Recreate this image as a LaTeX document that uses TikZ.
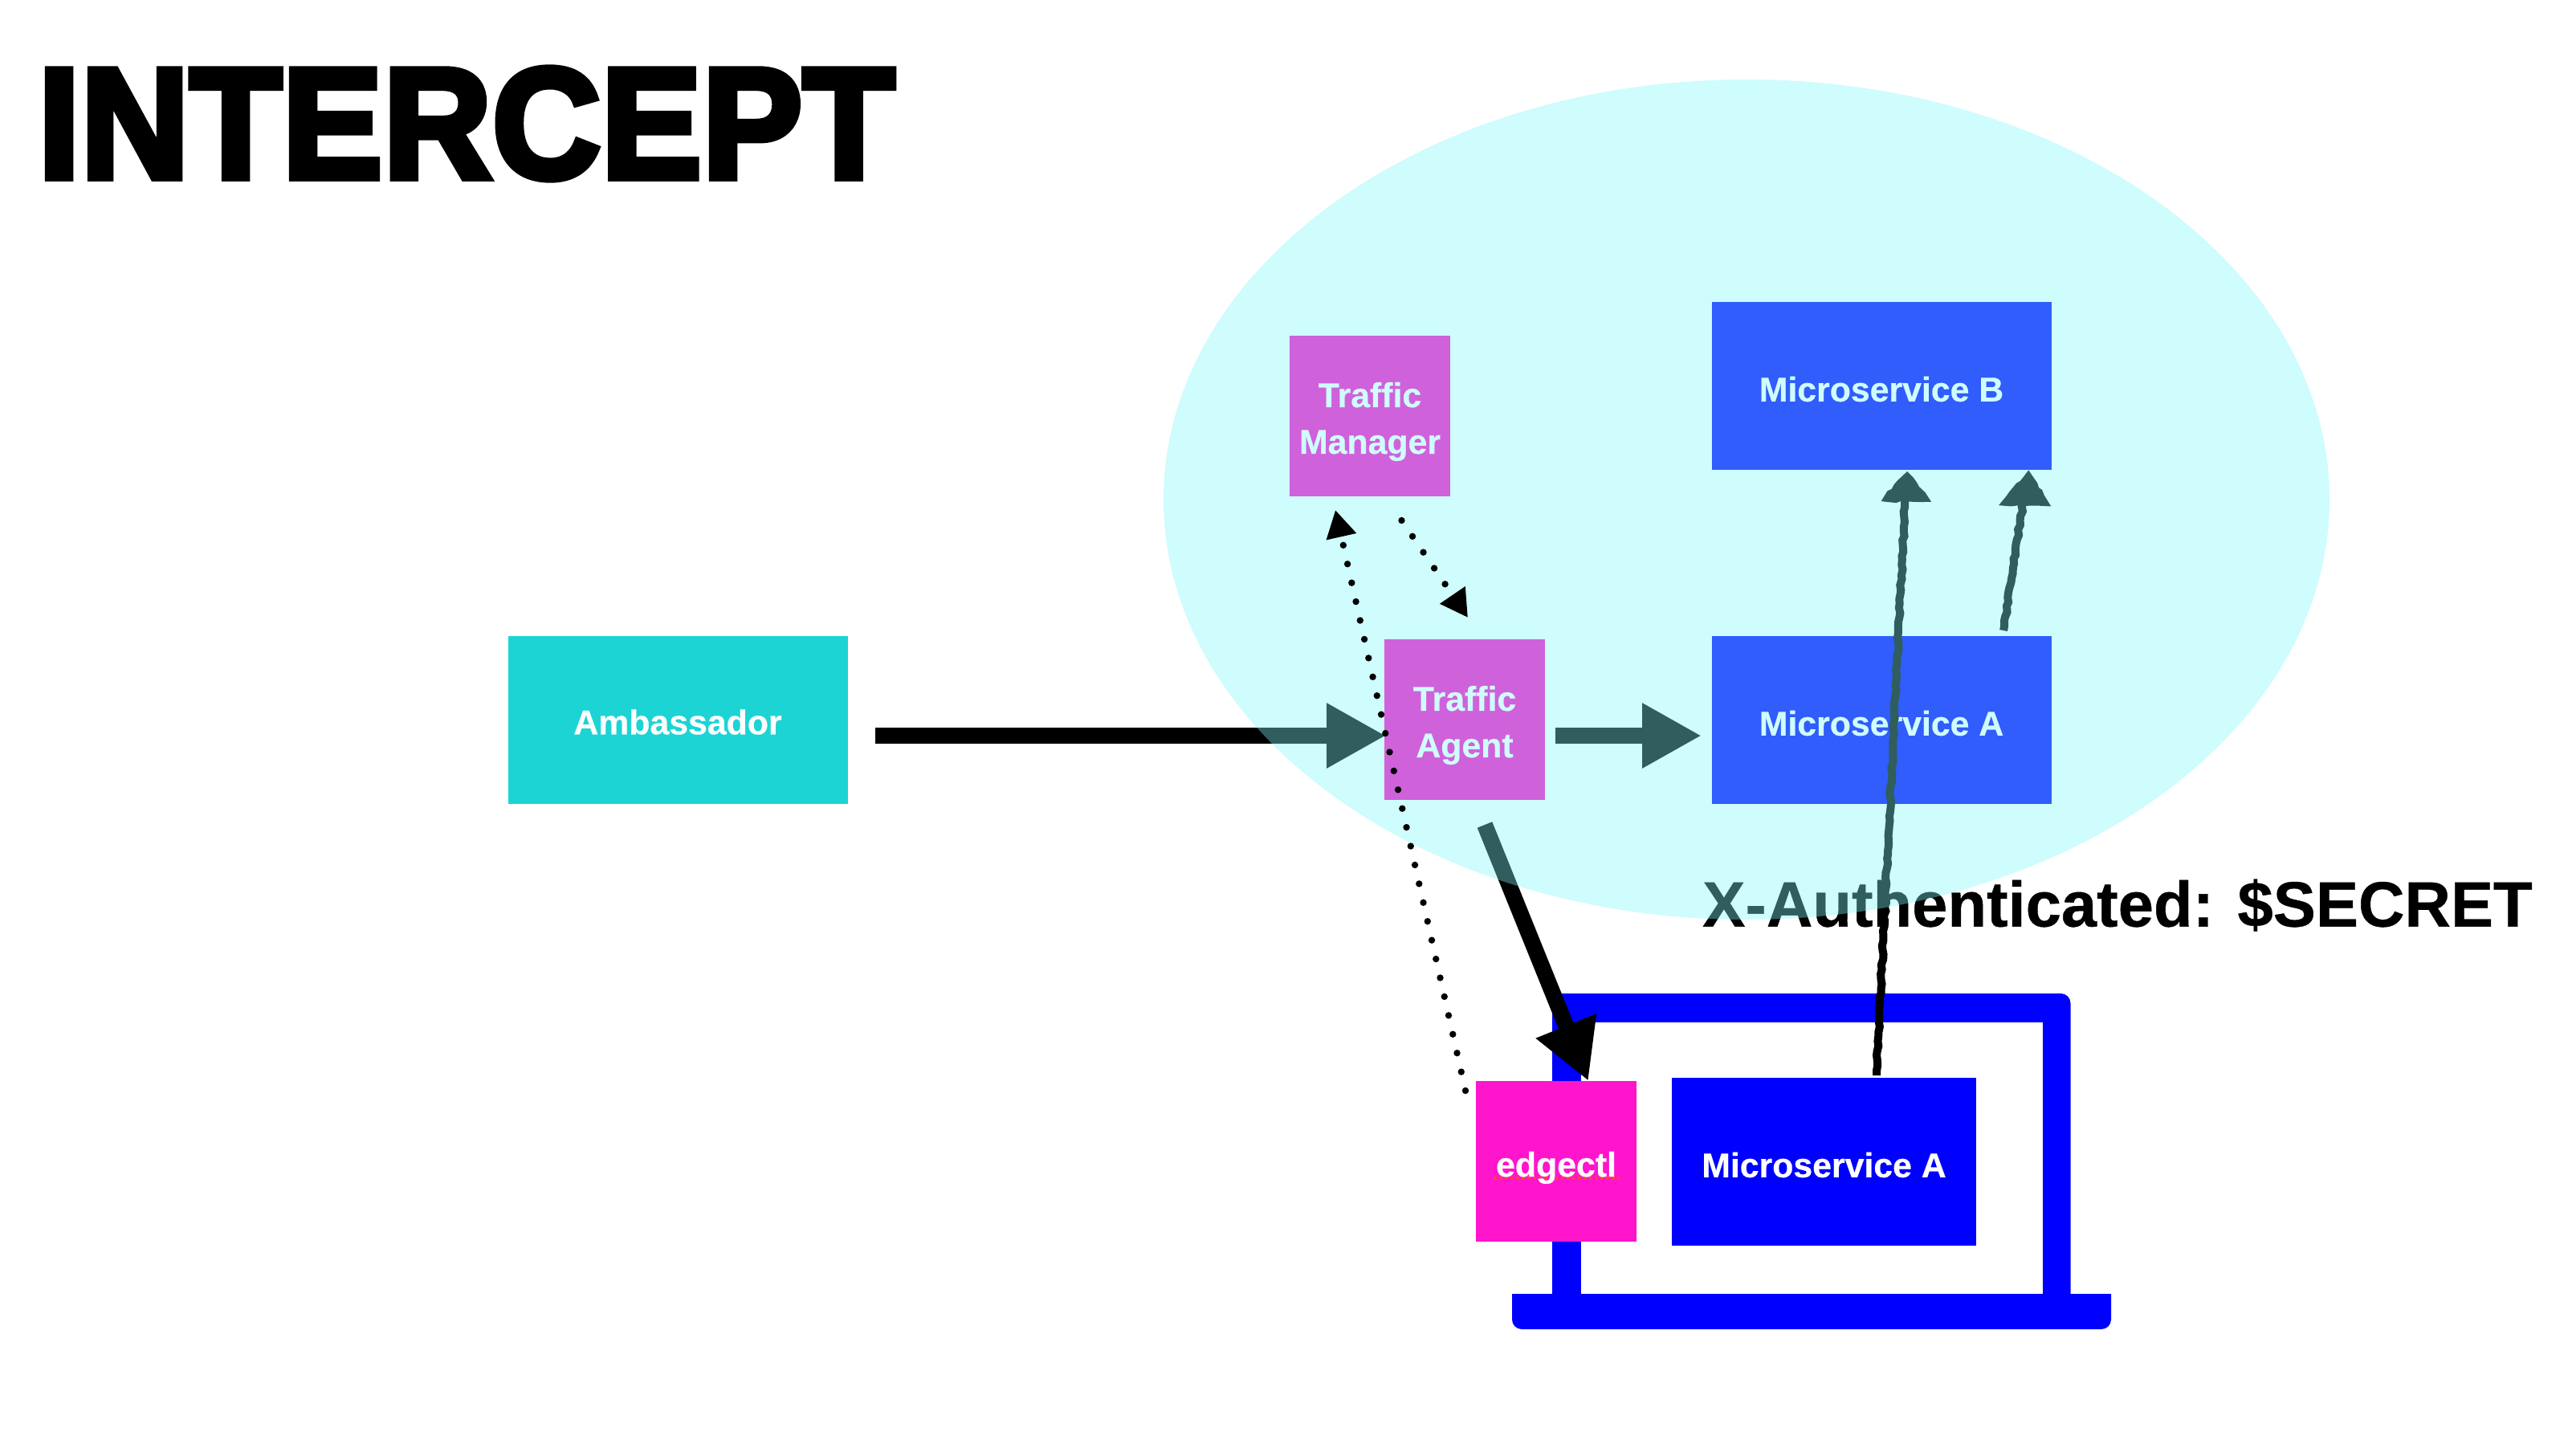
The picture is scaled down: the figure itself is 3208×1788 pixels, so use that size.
\documentclass[tikz,border=0pt]{standalone}
\usepackage{fontspec}
\newfontfamily\titlefont[FakeBold=4.6,LetterSpace=0.6]{Liberation Sans Bold}
\newfontfamily\labfont[FakeBold=0.5]{Liberation Sans Bold}
\usetikzlibrary{arrows.meta,decorations.pathmorphing}
\definecolor{ambcol}{RGB}{28,212,212}
\definecolor{mscol}{RGB}{0,0,255}
\definecolor{edgecol}{RGB}{255,21,203}
\definecolor{tcol}{RGB}{255,8,203}
\definecolor{glass}{RGB}{130,248,248}
\definecolor{squig}{RGB}{255,64,64}
\tikzset{
  lab/.style={inner sep=0pt,text=white,font=\labfont\fontsize{21.4}{29}\selectfont,align=center},
  box/.style={fill=#1,inner sep=0pt},
  wide/.style={box=#1,minimum width=211.5pt,minimum height=104.5pt},
  narrow/.style={box=#1,minimum width=100pt,minimum height=100pt},
  thick arrow/.style={line width=10pt,-{Triangle[length=37pt,width=38pt]}},
  chalk/.style={line width=5pt,black,decorate,decoration={random steps,segment length=3pt,amplitude=.6pt}},
  dotline/.style={line width=4.2pt,line cap=round,dash pattern=on 0pt off 12pt,-{Triangle[length=17pt,width=18pt]}}
}
\begin{document}
\begin{tikzpicture}[x=0.5pt,y=-0.5pt]
\pgfmathsetseed{7}
\useasboundingbox (0,0) rectangle (3208,1788);
\fill[white] (0,0) rectangle (3208,1788);
% laptop
\fill[mscol,rounded corners=6pt] (1933,1630) -- (1933,1237) -- (2578.5,1237) -- (2578.5,1630) -- cycle;
\fill[mscol] (1883,1611) -- (2629,1611) [rounded corners=6pt] -- (2629,1655) -- (1883,1655) [sharp corners] -- cycle;
\fill[white] (1969,1273) rectangle (2544,1611);
% boxes
\node[wide=ambcol,label={[lab,yshift=-1.5pt]center:Ambassador}] (amb) at (844,896) {};
\node[narrow=tcol,label={[lab,yshift=-3.5pt]center:{Traffic\\Manager}}] (tm) at (1706,518) {};
\node[narrow=tcol,label={[lab,yshift=-3.5pt]center:{Traffic\\Agent}}] (ta) at (1824,896) {};
\node[wide=mscol,label={[lab,yshift=-2pt]center:Microservice B}] (msb) at (2343,480.5) {};
\node[wide=mscol,label={[lab,yshift=-2pt]center:Microservice A}] (msa) at (2343,896.5) {};
\node[narrow=edgecol] (edge) at (1938,1446) {};
\draw[squig,line width=1.75pt,dash pattern=on 2pt off 1.5pt] (1860,1467) -- (2017,1467);
\node[lab,yshift=-4pt] (edgelab) at (1938,1446) {edgectl};
\node[box=mscol,minimum width=189.5pt,minimum height=104.5pt,label={[lab,yshift=-2pt]center:Microservice A}] (local) at (2271.5,1446.5) {};
% thick arrows
\coordinate (a1s) at (1090,916); \coordinate (a1e) at (1726,916);
\coordinate (a2s) at (1937,916); \coordinate (a2e) at (2119,916);
\coordinate (a3s) at (1849,1027); \coordinate (a3e) at (1978,1346);
\draw[thick arrow] (a1s) -- (a1e);
\draw[thick arrow] (a2s) -- (a2e);
\draw[thick arrow] (a3s) -- (a3e);
% chalk
\coordinate (c1s) at (2337,1339); \coordinate (c1e) at (2373,615);
\coordinate (c2s) at (2495,785); \coordinate (c2e) at (2521,615);
\draw[chalk] (c1s) -- (c1e);
\draw[chalk] (c2s) -- (c2e);
\draw[chalk,fill=black] (2375,594) -- (2396,620) -- (2351,620) -- cycle;
\draw[chalk,fill=black] (2526,594) -- (2545,625) -- (2499,625) -- cycle;
% header label
\node[font=\labfont\fontsize{39.8}{48}\selectfont,inner sep=0pt] (hdr) at (2637,1127) {X-Authenticated: \$SECRET};
% title
\node[inner sep=0pt] (title) at (581,154) {\scalebox{.955}[1]{\titlefont\fontsize{97.7}{110}\selectfont INTERCEPT}};
% cluster glass
\fill[glass,opacity=.375] (2175,622) ellipse [x radius=726,y radius=523];
% dotted
\coordinate (d1s) at (1825,1358); \coordinate (d1e) at (1663,635);
\coordinate (d2s) at (1745.5,648); \coordinate (d2e) at (1828,769);
\draw[dotline] (d1s) -- (d1e);
\draw[dotline] (d2s) -- (d2e);
\end{tikzpicture}
\end{document}
